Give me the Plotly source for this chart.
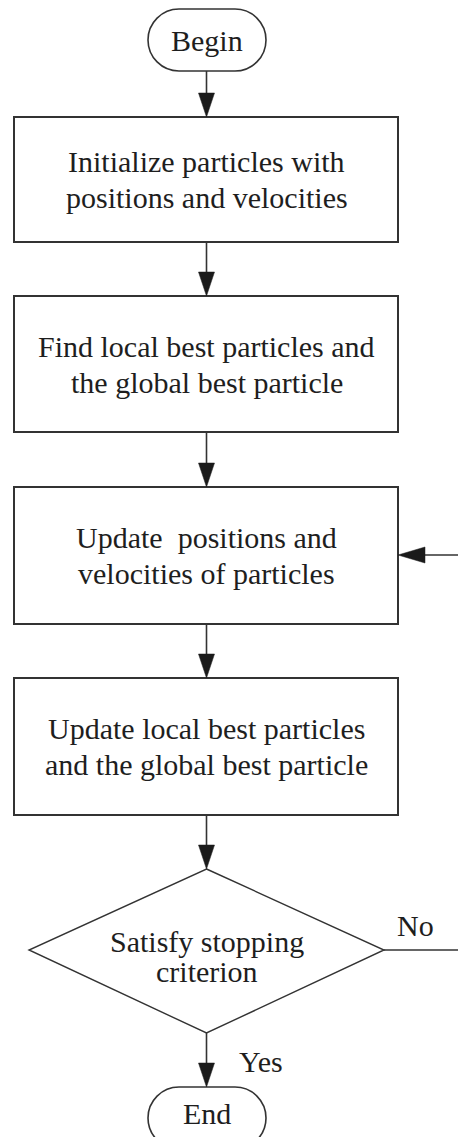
import plotly.graph_objects as go

# ---------------- data (texts of the flowchart) ----------------
TERMINALS = ["Begin", "End"]
PROCESS_STEPS = [
    ["Initialize particles with", "positions and velocities"],
    ["Find local best particles and", "the global best particle"],
    ["Update\u00a0 positions and", "velocities of particles"],
    ["Update local best particles", "and the global best particle"],
]
DECISION = ["Satisfy stopping", "criterion"]
BRANCHES = ["No", "Yes"]

# ---------------- layout geometry (pixels, y downwards) ----------------
W, H = 458, 1137
CX = 206.5
BOX_X0, BOX_X1 = 14, 398
BOX_TOPS = [117, 296, 487, 678]
BOX_BOTS = [242, 432, 624, 815]
TERM_X0, TERM_X1 = 148, 266
TERM_TOPS = [9, 1087]
TERM_TEXT_Y = [40, 1113]
TERM_H = 62
DIA_L, DIA_R, DIA_T, DIA_B = 29, 384, 869, 1033
DIA_CY = 950
LINE_GAP = 36
FEEDBACK_Y = 555
HEAD_L, HEAD_W = 24, 8

LINE_COL = "#333333"
TEXT_COL = "#1e1e1e"
FONT = dict(family="Liberation Serif, Times New Roman, serif", size=30, color=TEXT_COL)

shapes = []
annotations = []


def stadium(x0, x1, y0, h):
    r = h / 2.0
    k = 0.5523 * r
    a, b = x0 + r, x1 - r
    cy = y0 + r
    y1 = y0 + h
    p = (f"M {a},{y0} L {b},{y0} "
         f"C {b + k},{y0} {x1},{cy - k} {x1},{cy} "
         f"C {x1},{cy + k} {b + k},{y1} {b},{y1} "
         f"L {a},{y1} "
         f"C {a - k},{y1} {x0},{cy + k} {x0},{cy} "
         f"C {x0},{cy - k} {a - k},{y0} {a},{y0} Z")
    return dict(type="path", path=p, xref="x", yref="y",
                line=dict(color=LINE_COL, width=1.6), fillcolor="rgba(0,0,0,0)")


def down_arrow(y0, y1):
    shapes.append(dict(type="line", x0=CX, x1=CX, y0=y0, y1=y1 - HEAD_L + 2,
                       xref="x", yref="y", line=dict(color=LINE_COL, width=1.6)))
    p = f"M {CX},{y1} L {CX - HEAD_W},{y1 - HEAD_L} L {CX + HEAD_W},{y1 - HEAD_L} Z"
    shapes.append(dict(type="path", path=p, xref="x", yref="y",
                       line=dict(color="#1a1a1a", width=0.5), fillcolor="#1a1a1a"))


def text(x, y, s, xanchor="center"):
    annotations.append(dict(x=x, y=y, xref="x", yref="y", text=s, showarrow=False,
                            xanchor=xanchor, yanchor="middle", font=FONT))


# terminals
for lab, top, ty in zip(TERMINALS, TERM_TOPS, TERM_TEXT_Y):
    shapes.append(stadium(TERM_X0, TERM_X1, top, TERM_H))
    text(CX, ty, lab)

# process boxes
for lines, t, b in zip(PROCESS_STEPS, BOX_TOPS, BOX_BOTS):
    shapes.append(dict(type="rect", x0=BOX_X0, x1=BOX_X1, y0=t, y1=b, xref="x", yref="y",
                       line=dict(color=LINE_COL, width=2), fillcolor="rgba(0,0,0,0)"))
    mid = (t + b) / 2
    for i, ln in enumerate(lines):
        text(CX, mid + (i - (len(lines) - 1) / 2) * LINE_GAP, ln)

# decision diamond
p = f"M {CX},{DIA_T} L {DIA_R},{DIA_CY} L {CX},{DIA_B} L {DIA_L},{DIA_CY} Z"
shapes.append(dict(type="path", path=p, xref="x", yref="y",
                   line=dict(color=LINE_COL, width=1.4), fillcolor="rgba(0,0,0,0)"))
for i, ln in enumerate(DECISION):
    text(CX, DIA_CY + 6 + (i - 0.5) * 30, ln)

# vertical arrows
down_arrow(TERM_TOPS[0] + TERM_H, BOX_TOPS[0])
for i in range(3):
    down_arrow(BOX_BOTS[i], BOX_TOPS[i + 1])
down_arrow(BOX_BOTS[3], DIA_T)
down_arrow(DIA_B, TERM_TOPS[1])

# feedback ("No") branch
shapes.append(dict(type="line", x0=DIA_R, x1=W + 5, y0=DIA_CY, y1=DIA_CY, xref="x", yref="y",
                   line=dict(color=LINE_COL, width=1.6)))
shapes.append(dict(type="line", x0=BOX_X1 + HEAD_L - 2, x1=W + 5, y0=FEEDBACK_Y, y1=FEEDBACK_Y,
                   xref="x", yref="y", line=dict(color=LINE_COL, width=1.6)))
p = (f"M {BOX_X1},{FEEDBACK_Y} L {BOX_X1 + HEAD_L + 3},{FEEDBACK_Y - HEAD_W} "
     f"L {BOX_X1 + HEAD_L + 3},{FEEDBACK_Y + HEAD_W} Z")
shapes.append(dict(type="path", path=p, xref="x", yref="y",
                   line=dict(color="#1a1a1a", width=0.5), fillcolor="#1a1a1a"))

# branch labels
text(395, 925, BRANCHES[0], xanchor="left")
text(237, 1061, BRANCHES[1], xanchor="left")

fig = go.Figure()
fig.update_layout(
    width=W, height=H,
    margin=dict(l=0, r=0, t=0, b=0),
    paper_bgcolor="white", plot_bgcolor="white",
    xaxis=dict(range=[0, W], visible=False, fixedrange=True),
    yaxis=dict(range=[H, 0], visible=False, fixedrange=True),
    shapes=shapes, annotations=annotations, showlegend=False,
)
fig.write_html(
    "out.html",
    config={"displayModeBar": False, "staticPlot": True},
    post_script="document.body.style.margin='0';document.body.style.overflow='hidden';",
)
